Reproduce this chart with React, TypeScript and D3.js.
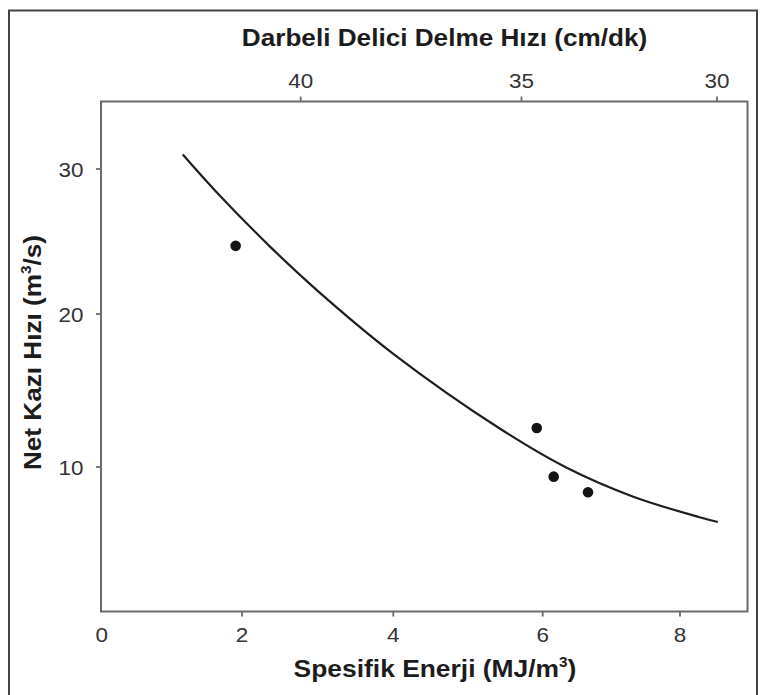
import React from "react";
import * as d3 from "d3";

// Data
const xTicks = [0, 2, 4, 6, 8];
const yTicks = [10, 20, 30];
const topTicks = [40, 35, 30];

const pointEnergy = [1.91, 5.92, 6.16, 6.66];
const pointRate = [24.7, 12.55, 9.37, 8.35];

const curveEnergy = [1.16, 1.64, 2.36, 3.0, 4.0, 5.43, 6.35, 7.32, 8.29, 8.56];
const curveRate = [31.0, 28.4, 24.7, 21.6, 17.4, 12.5, 9.95, 8.06, 6.72, 6.41];

const title = "Darbeli Delici Delme Hızı (cm/dk)";

const W = 761;
const H = 695;

export default function App() {
  const left = 101;
  const right = 747.5;
  const top = 101.5;
  const bottom = 611.5;

  const x = d3
    .scaleLinear()
    .domain([0, 2, 4, 6, 8, 9])
    .range([left, 242, 393.3, 542.7, 680, right]);
  const y = d3
    .scaleLinear()
    .domain([0.56, 10, 20, 30, 34.66])
    .range([bottom, 467, 314, 169, top]);
  const xTop = d3.scaleLinear().domain([40, 35, 30]).range([300.7, 521.5, 717]);

  const line = d3
    .line<number>()
    .x((_, i) => x(curveEnergy[i]))
    .y((d) => y(d))
    .curve(d3.curveCatmullRom.alpha(0.5));

  const axisColor = "#6b6b6b";
  const labelColor = "#333";
  const titleColor = "#1c1c1c";
  const font = "Liberation Sans, Arial, Helvetica, sans-serif";
  const sx = 1.07;

  return (
    <svg
      width={W}
      height={H}
      style={{ position: "absolute", left: 0, top: 0, background: "#fff" }}
      fontFamily={font}
    >
      {/* outer frame */}
      <rect x={9} y={10.5} width={748} height={700} fill="none" stroke="#444" strokeWidth={2} />

      {/* plot box */}
      <rect
        x={left}
        y={top}
        width={right - left}
        height={bottom - top}
        fill="none"
        stroke={axisColor}
        strokeWidth={2}
      />

      {/* bottom axis */}
      {xTicks.map((t) => (
        <g key={"xb" + t}>
          {t !== 0 && (
            <line x1={x(t)} x2={x(t)} y1={bottom} y2={bottom + 5} stroke={axisColor} strokeWidth={1.8} />
          )}
          <text
            transform={`translate(${x(t) + (t === 0 ? 0.7 : 0)},642) scale(${sx},1)`}
            textAnchor="middle"
            fontSize={21}
            fill={labelColor}
          >
            {t}
          </text>
        </g>
      ))}

      {/* left axis */}
      {yTicks.map((t) => (
        <g key={"yl" + t}>
          <line x1={left - 5} x2={left} y1={y(t)} y2={y(t)} stroke={axisColor} strokeWidth={1.8} />
          <text
            transform={`translate(83.5,${y(t) + 7.5}) scale(${sx},1)`}
            textAnchor="end"
            fontSize={21}
            fill={labelColor}
          >
            {t}
          </text>
        </g>
      ))}

      {/* top axis */}
      {topTicks.map((t) => (
        <g key={"xt" + t}>
          <line x1={xTop(t)} x2={xTop(t)} y1={top} y2={top - 5} stroke={axisColor} strokeWidth={1.8} />
          <text
            transform={`translate(${xTop(t)},88) scale(${sx},1)`}
            textAnchor="middle"
            fontSize={21}
            fill={labelColor}
          >
            {t}
          </text>
        </g>
      ))}

      {/* fitted curve */}
      <path d={line(curveRate) || ""} fill="none" stroke="#1e1e1e" strokeWidth={2.2} />

      {/* data points */}
      {pointEnergy.map((e, i) => (
        <circle key={"p" + i} cx={x(e)} cy={y(pointRate[i])} r={5.3} fill="#141414" />
      ))}

      {/* titles */}
      <text
        transform={`translate(444.5,46) scale(1.09,1)`}
        textAnchor="middle"
        fontSize={24}
        fontWeight="bold"
        fill={titleColor}
      >
        {title}
      </text>

      <text
        transform={`translate(435,677) scale(1.1,1)`}
        textAnchor="middle"
        fontSize={24}
        fontWeight="bold"
        fill={titleColor}
      >
        Spesifik Enerji (MJ/m
        <tspan fontSize={14} dy={-10}>3</tspan>
        <tspan dy={10}>)</tspan>
      </text>

      <text
        transform={`translate(40.5,352.5) rotate(-90) scale(1.09,1)`}
        textAnchor="middle"
        fontSize={24}
        fontWeight="bold"
        fill={titleColor}
      >
        Net Kazı Hızı (m
        <tspan fontSize={14} dy={-10}>3</tspan>
        <tspan dy={10}>/s)</tspan>
      </text>
    </svg>
  );
}
